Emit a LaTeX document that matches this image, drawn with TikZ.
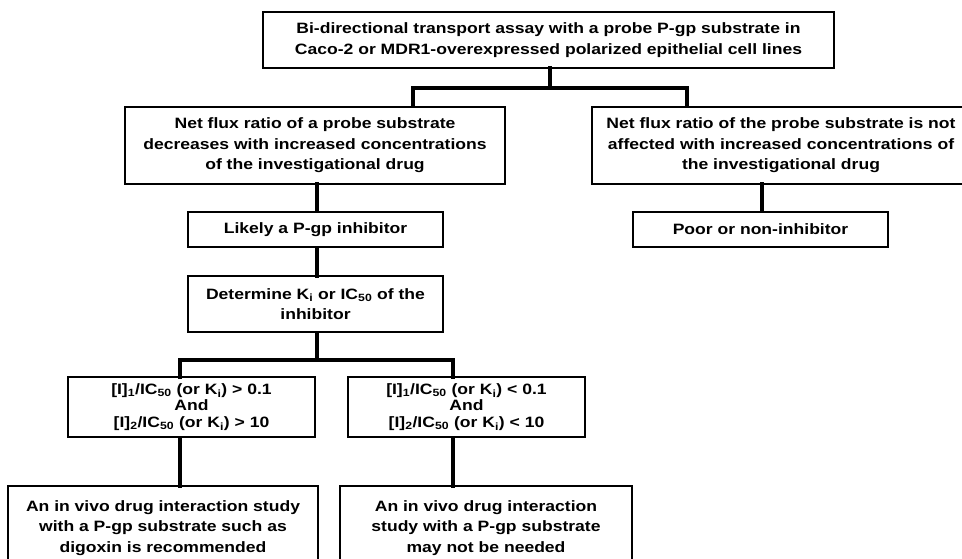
\documentclass[tikz,border=0pt]{standalone}
\usepackage{fontspec}
\setmainfont[FakeStretch=1.17]{Liberation Sans}
\newcommand{\conc}[1]{{[I]}\textsubscript{#1}}
\begin{document}
\begin{tikzpicture}[x=1pt,y=-1pt,
  box/.style={draw=black, line width=1.5pt, fill=white, inner sep=0pt, align=center,
    font=\fontsize{15}{20.5}\selectfont\bfseries},
  condbox/.style={box, font=\fontsize{15}{16.5}\selectfont\bfseries},
  conn/.style={draw=black, line width=4.5pt, line join=miter, line cap=rect}]
\useasboundingbox (0,0) rectangle (962,559);
\fill[white] (0,0) rectangle (962,559);
\clip (0,0) rectangle (962,559);

% boxes
\node[box, minimum width=571pt, minimum height=56pt] (top) at (548.5,40)
  {Bi-directional transport assay with a probe P-gp substrate in\\
   Caco-2 or MDR1-overexpressed polarized epithelial cell lines};
\node[box, minimum width=380pt, minimum height=77pt] (left) at (315,145.5)
  {Net flux ratio of a probe substrate\\
   decreases with increased concentrations\\
   of the investigational drug};
\node[box, minimum width=378pt, minimum height=77pt] (right) at (781,145.5)
  {Net flux ratio of the probe substrate is not\\
   affected with increased concentrations of\\
   the investigational drug};
\node[box, minimum width=255pt, minimum height=35pt] (poor) at (760.5,229.5)
  {Poor or non-inhibitor};
\node[box, minimum width=255pt, minimum height=35pt] (likely) at (315.5,229.5)
  {Likely a P-gp inhibitor};
\node[box, minimum width=255pt, minimum height=56pt] (det) at (315.5,304)
  {Determine K\textsubscript{i} or IC\textsubscript{50} of the\\ inhibitor};
\node[condbox, minimum width=247pt, minimum height=60pt] (condA) at (191.5,407)
  {\conc{1}/IC\textsubscript{50} (or K\textsubscript{i}) > 0.1\\
   And\\
   \conc{2}/IC\textsubscript{50} (or K\textsubscript{i}) > 10};
\node[condbox, minimum width=237pt, minimum height=60pt] (condB) at (466.5,407)
  {\conc{1}/IC\textsubscript{50} (or K\textsubscript{i}) < 0.1\\
   And\\
   \conc{2}/IC\textsubscript{50} (or K\textsubscript{i}) < 10};
\node[box, minimum width=310pt, minimum height=84pt] (recA) at (163,528)
  {An in vivo drug interaction study\\
   with a P-gp substrate such as\\
   digoxin is recommended};
\node[box, minimum width=292pt, minimum height=84pt] (recB) at (486,528)
  {An in vivo drug interaction\\
   study with a P-gp substrate\\
   may not be needed};

% junction points of the bars
\coordinate (ja) at (413,88);
\coordinate (jb) at (687,88);
\coordinate (jc) at (180,360);
\coordinate (jd) at (453,360);

% connectors
\draw[conn] (top.south -| 550,0) -- (550,88);
\draw[conn] (ja |- left.north) -- (ja) -- (jb) -- (jb |- right.north);
\draw[conn] (left.south -| 317,0) -- (likely.north -| 317,0);
\draw[conn] (right.south -| 762,0) -- (poor.north -| 762,0);
\draw[conn] (likely.south -| 317,0) -- (det.north -| 317,0);
\draw[conn] (det.south -| 317,0) -- (317,360);
\draw[conn] (jc |- condA.north) -- (jc) -- (jd) -- (jd |- condB.north);
\draw[conn] (condA.south -| jc) -- (recA.north -| jc);
\draw[conn] (condB.south -| jd) -- (recB.north -| jd);
\end{tikzpicture}
\end{document}
